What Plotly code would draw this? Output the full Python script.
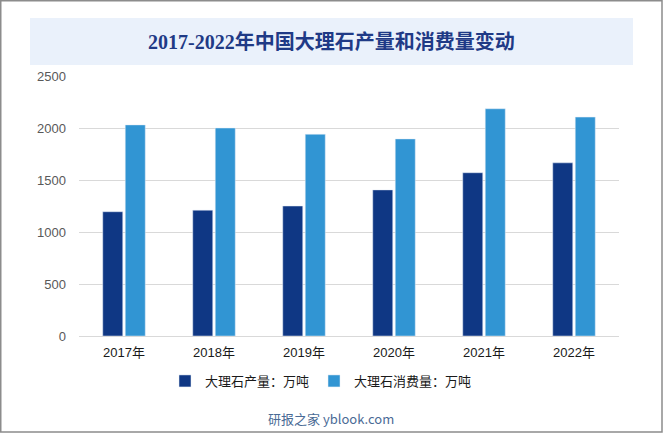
import plotly.graph_objects as go

years = ["2017年", "2018年", "2019年", "2020年", "2021年", "2022年"]
production = [1195, 1210, 1250, 1405, 1570, 1665]
consumption = [2030, 2000, 1940, 1895, 2185, 2105]
series_names = ["大理石产量：万吨", "大理石消费量：万吨"]
title_text = "2017-2022年中国大理石产量和消费量变动"
source_text = "研报之家 yblook.com"

W, H = 663, 433
L, R, T, B = 79, 44, 76, 97
PW, PH = W - L - R, H - T - B

def px_x(x):
    return (x - L) / PW

def px_y(y):
    return (H - B - y) / PH

fig = go.Figure()
fig.add_bar(x=years, y=production, name=series_names[0], marker_color="#0F3784")
fig.add_bar(x=years, y=consumption, name=series_names[1], marker_color="#3195D3")

fig.update_layout(
    width=W, height=H,
    margin=dict(l=L, r=R, t=T, b=B),
    paper_bgcolor="white", plot_bgcolor="white",
    barmode="group", bargap=0.5, bargroupgap=0.11,
    font=dict(family="Noto Sans CJK SC, Liberation Sans, sans-serif", size=12, color="#404040"),
    showlegend=True,
    legend=dict(orientation="h", x=px_x(165), xanchor="left", y=px_y(381), yanchor="middle",
                font=dict(size=13, color="#1a1a1a"), itemwidth=30,
                traceorder="normal"),
    xaxis=dict(showgrid=False, showline=True, linecolor="#d9d9d9", linewidth=1,
               ticks="", ticklabelstandoff=4,
               tickfont=dict(family="Liberation Sans, Noto Sans CJK SC, sans-serif", size=13, color="#1a1a1a")),
    yaxis=dict(range=[0, 2500], dtick=500, showgrid=True, gridcolor="#d9d9d9", gridwidth=1,
               zeroline=False, showline=False, ticks="", ticklabelstandoff=12,
               tickfont=dict(family="Liberation Sans, Arial, sans-serif", size=13, color="#595959")),
    shapes=[
        dict(type="rect", xref="paper", yref="paper",
             x0=px_x(30), x1=px_x(633), y0=px_y(65), y1=px_y(18),
             fillcolor="#EAF1FB", line=dict(width=0), layer="below"),
        dict(type="rect", xref="paper", yref="paper",
             x0=px_x(0.75), x1=px_x(W - 1), y0=px_y(H - 1), y1=px_y(0.75),
             fillcolor="rgba(0,0,0,0)", line=dict(color="#8c8c8c", width=1.5)),
    ],
    annotations=[
        dict(text="<b>" + title_text + "</b>", xref="paper", yref="paper",
             x=px_x(331), y=px_y(41), xanchor="center", yanchor="middle", showarrow=False,
             font=dict(family="Liberation Serif, Noto Sans CJK SC, serif", size=20, color="#1F3A86")),
        dict(text=source_text, xref="paper", yref="paper",
             x=px_x(331), y=px_y(418), xanchor="center", yanchor="middle", showarrow=False,
             font=dict(family="Noto Sans CJK SC, sans-serif", size=13, color="#4A6B96")),
    ],
)

fig.write_html("out.html", config={"displayModeBar": False},
               post_script="document.body.style.margin='0';")
